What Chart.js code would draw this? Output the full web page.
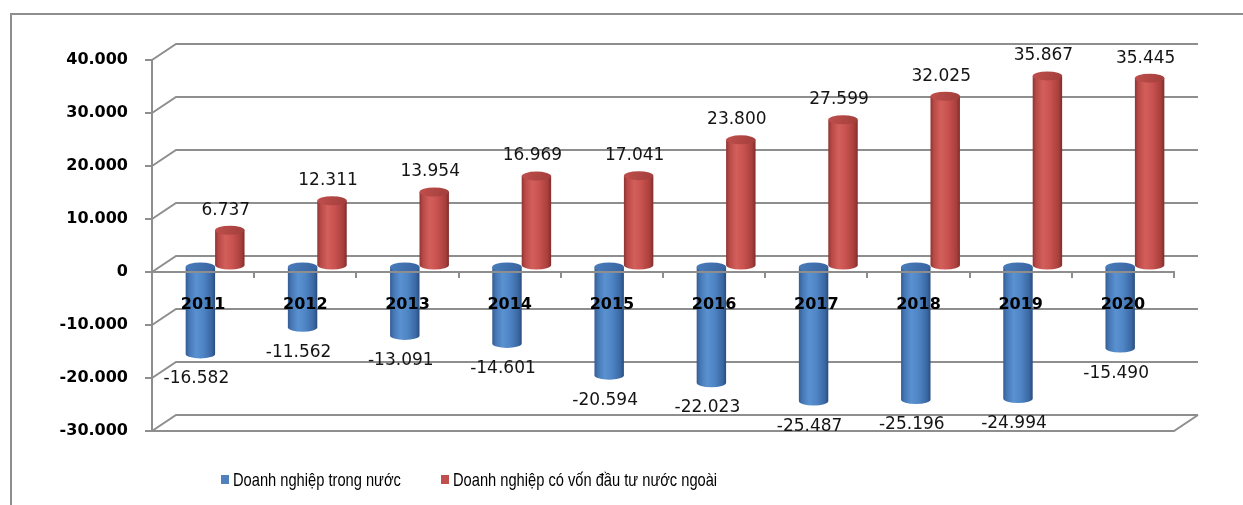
<!DOCTYPE html>
<html>
<head>
<meta charset="utf-8">
<script src="https://cdn.jsdelivr.net/npm/chart.js@4.4.1/dist/chart.umd.min.js"></script>
<style>
  html, body { margin: 0; padding: 0; background: #fff; overflow: hidden; }
  canvas { display: block; }
</style>
</head>
<body>
<canvas id="c" width="1243" height="505"></canvas>
<script>
// Categories and series values
const years = ['2011', '2012', '2013', '2014', '2015', '2016', '2017', '2018', '2019', '2020'];
const domestic = [-16582, -11562, -13091, -14601, -20594, -22023, -25487, -25196, -24994, -15490];
const foreign = [6737, 12311, 13954, 16969, 17041, 23800, 27599, 32025, 35867, 35445];
const seriesNames = ['Doanh nghiệp trong nước', 'Doanh nghiệp có vốn đầu tư nước ngoài'];
const seriesColors = ['#4F81BD', '#C0504D'];

// Value axis range and tick step
const yMin = -30000;
const yMax = 40000;
const yStep = 10000;

// Oblique depth of the back wall and of the cylinders' centre plane
const DEPTH = { wallX: 24, wallY: -16, barX: 12, barY: -6 };
const LINE = '#8e8e8e';

// Vietnamese number format: dot as thousands separator
function fmtVN(v) {
  const s = Math.abs(Math.round(v)).toString().replace(/\B(?=(\d{3})+(?!\d))/g, '.');
  return (v < 0 ? '-' : '') + s;
}

const shades = [
  {
    side: [[0, '#345d92'], [0.12, '#4677b5'], [0.35, '#5a91d1'], [0.6, '#4f85c5'], [0.88, '#3a68a3'], [1, '#2a4d7c']],
    cap: ['#4a7cbb', '#3864a0']
  },
  {
    side: [[0, '#8f3532'], [0.12, '#b94a47'], [0.35, '#d35f5b'], [0.6, '#c8524f'], [0.88, '#a83f3c'], [1, '#802d2b']],
    cap: ['#c04f4c', '#a13e3b']
  }
];

function drawCylinder(c, cx, yv, yb, w, pal) {
  const rx = w / 2, ry = 4.5;
  const top = Math.min(yv, yb), bot = Math.max(yv, yb);
  const g = c.createLinearGradient(cx - rx, 0, cx + rx, 0);
  pal.side.forEach(([o, col]) => g.addColorStop(o, col));
  c.beginPath();
  c.moveTo(cx - rx, top);
  c.lineTo(cx - rx, bot);
  c.ellipse(cx, bot, rx, ry, 0, Math.PI, 0, true);
  c.lineTo(cx + rx, top);
  c.closePath();
  c.fillStyle = g;
  c.fill();
  const gc = c.createLinearGradient(cx - rx, top - ry, cx + rx, top + ry);
  gc.addColorStop(0, pal.cap[0]);
  gc.addColorStop(1, pal.cap[1]);
  c.beginPath();
  c.ellipse(cx, top, rx, ry, 0, 0, Math.PI * 2);
  c.fillStyle = gc;
  c.fill();
}

const threeD = {
  id: 'threeD',
  beforeDraw(chart) {
    const c = chart.ctx;
    c.save();
    c.strokeStyle = LINE;
    c.lineWidth = 2;
    c.beginPath();
    c.moveTo(11, 505);
    c.lineTo(11, 14);
    c.lineTo(1243, 14);
    c.stroke();
    c.restore();
  },
  beforeDatasetsDraw(chart) {
    const c = chart.ctx, a = chart.chartArea, y = chart.scales.y;
    c.save();
    c.strokeStyle = LINE;
    c.lineWidth = 2;
    for (let v = yMin; v <= yMax; v += yStep) {
      const py = Math.round(y.getPixelForValue(v));
      c.beginPath();
      c.moveTo(a.left, py);
      c.lineTo(a.left + DEPTH.wallX, py + DEPTH.wallY);
      c.lineTo(a.right + DEPTH.wallX, py + DEPTH.wallY);
      c.stroke();
    }
    const fy = Math.round(y.getPixelForValue(yMin));
    c.beginPath();
    c.moveTo(a.left, fy);
    c.lineTo(a.right, fy);
    c.lineTo(a.right + DEPTH.wallX, fy + DEPTH.wallY);
    c.stroke();
    c.restore();

    c.save();
    chart.data.datasets.forEach((ds, i) => {
      const meta = chart.getDatasetMeta(i);
      meta.data.forEach(bar => {
        const p = bar.getProps(['x', 'y', 'base', 'width'], true);
        drawCylinder(c, p.x + DEPTH.barX, p.y + DEPTH.barY, p.base + DEPTH.barY, p.width, shades[i]);
      });
    });
    c.restore();
    return false;
  },
  afterDraw(chart) {
    const c = chart.ctx;
    c.save();
    // value labels
    c.font = '17px "DejaVu Sans", Verdana, sans-serif';
    c.fillStyle = '#141414';
    c.textAlign = 'center';
    c.textBaseline = 'middle';
    chart.data.datasets.forEach((ds, i) => {
      const meta = chart.getDatasetMeta(i);
      meta.data.forEach((bar, j) => {
        const v = ds.data[j];
        const x = bar.x + DEPTH.barX - 4;
        const yv = bar.y + DEPTH.barY;
        c.fillText(fmtVN(v), x, v >= 0 ? yv - 20 : yv + 25);
      });
    });
    c.restore();

    // legend (narrow sans, condensed horizontally)
    const legendX = [221, 441];
    chart.data.datasets.forEach((ds, i) => {
      c.save();
      c.fillStyle = ds.backgroundColor;
      c.fillRect(legendX[i], 475, 8, 9);
      c.translate(legendX[i] + 12, 486);
      c.scale(0.772, 1);
      c.font = '19px "Liberation Sans", Arial, sans-serif';
      c.textAlign = 'left';
      c.textBaseline = 'alphabetic';
      c.fillStyle = '#000';
      c.fillText(ds.label, 0, 0);
      c.restore();
    });
  }
};

const boldTick = { family: '"DejaVu Sans", Verdana, sans-serif', weight: 'bold' };

new Chart(document.getElementById('c'), {
  type: 'bar',
  data: {
    labels: years,
    datasets: [
      { label: seriesNames[0], data: domestic, backgroundColor: seriesColors[0] },
      { label: seriesNames[1], data: foreign, backgroundColor: seriesColors[1] }
    ]
  },
  options: {
    responsive: false,
    animation: false,
    events: [],
    categoryPercentage: 0.576,
    barPercentage: 1,
    layout: { padding: { top: 60, right: 69, bottom: 74, left: 0 } },
    plugins: { legend: { display: false }, tooltip: { enabled: false } },
    scales: {
      x: {
        position: { y: 0 },
        afterFit(s) { s.height = 0; },
        grid: { z: 1, drawOnChartArea: false, drawTicks: true, tickLength: 5, offset: true, color: LINE, lineWidth: 2 },
        border: { z: 1, display: true, color: LINE, width: 2 },
        ticks: { z: 1, font: { ...boldTick, size: 16 }, color: '#000', padding: 18, maxRotation: 0, autoSkip: false }
      },
      y: {
        min: yMin,
        max: yMax,
        afterFit(s) { s.width = 152; },
        grid: { drawOnChartArea: false, drawTicks: true, tickLength: 7, color: LINE, lineWidth: 2 },
        border: { display: true, color: LINE, width: 2 },
        ticks: { stepSize: yStep, padding: 17, callback: v => fmtVN(v), font: { ...boldTick, size: 16 }, color: '#000' }
      }
    }
  },
  plugins: [threeD]
});
</script>
</body>
</html>
